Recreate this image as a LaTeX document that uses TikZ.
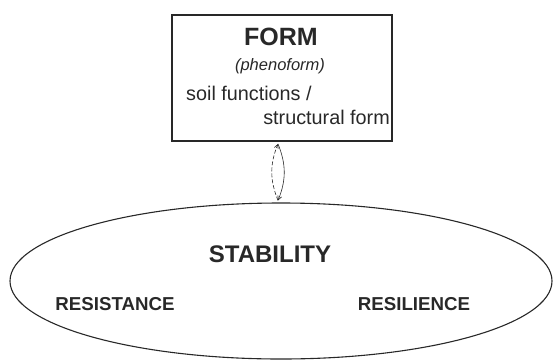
\documentclass[tikz,border=0pt]{standalone}
\usepackage{fontspec}
\setmainfont{Liberation Sans}
\usetikzlibrary{arrows.meta,positioning,shapes.geometric}
\definecolor{InkGrey}{RGB}{40,40,40}
\tikzset{
  formbox/.style={draw=InkGrey,line width=1.8pt,minimum width=220pt,
    minimum height=126pt,inner sep=0pt},
  stabring/.style={draw=InkGrey,ellipse,line width=1.1pt,minimum width=542pt,
    minimum height=156pt,inner sep=0pt},
  headtext/.style={font=\fontsize{24}{28}\selectfont\bfseries,anchor=base,
    text=InkGrey,inner sep=0pt},
  subtext/.style={font=\fontsize{18.7}{22}\selectfont\bfseries,anchor=base,
    text=InkGrey,inner sep=0pt},
  plaintext/.style={font=\fontsize{19.8}{22}\selectfont,text=InkGrey,inner sep=0pt},
  link/.style={-{Straight Barb[length=4pt,width=4pt]},line width=0.6pt,InkGrey}
}

\begin{document}
\begin{tikzpicture}[x=1pt,y=1pt]
  \useasboundingbox (0,0) rectangle (553,360);

  \node[formbox] (form) at (282,282) {};
  \node[stabring] (stability) at (281,79) {};

  \node[headtext,font=\fontsize{25}{28}\selectfont\bfseries] (formtitle) at (281,315) {FORM};
  \node[plaintext,anchor=base,font=\fontsize{16.5}{18}\selectfont\itshape] (pheno) at (280,290) {(phenoform)};
  \node[plaintext,anchor=base west] (soilfn) at (186,260) {soil functions /};
  \node[plaintext,anchor=base east] (structform) at (390,236) {structural form};

  \node[headtext] (stabtitle) at (270,98) {STABILITY};
  \node[subtext] (resist) at (115,50) {RESISTANCE};
  \node[subtext] (resil) at (414,50) {RESILIENCE};

  \coordinate (top) at ([xshift=-4pt,yshift=-2pt]form.south);
  \coordinate (bot) at ([xshift=-3pt,yshift=2pt]stability.north);
  \draw[link,dashed,dash pattern=on 4pt off 2pt] (bot) to[bend left=22] (top);
  \draw[link] (top) to[bend left=22] (bot);
\end{tikzpicture}
\end{document}
